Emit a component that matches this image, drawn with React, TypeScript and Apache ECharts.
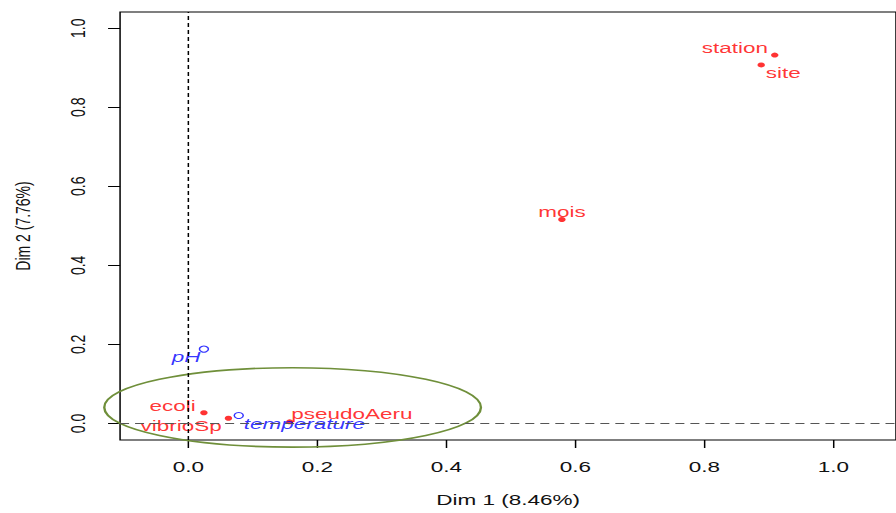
import React, { useEffect, useRef } from "react";
import * as echarts from "echarts";

// ---- data ----
const activeNames = ["station", "site", "mois", "ecoli", "vibrioSp", "pseudoAeru"];
const activeDim1 = [0.909, 0.888, 0.579, 0.024, 0.062, 0.157];
const activeDim2 = [0.932, 0.907, 0.516, 0.027, 0.013, 0.004];

const suppNames = ["pH", "temperature"];
const suppDim1 = [0.024, 0.078];
const suppDim2 = [0.188, 0.02];

const ellipseCenter = [0.1615, 0.0405];
const ellipseRadii = [0.292, 0.1005];

const xTicks = [0, 0.2, 0.4, 0.6, 0.8, 1.0];
const yTicks = [0, 0.2, 0.4, 0.6, 0.8, 1.0];
const xTitle = "Dim 1 (8.46%)";
const yTitle = "Dim 2 (7.76%)";

// ---- layout / style (kept apart from data) ----
const W0 = 597;
const H0 = 513;
const SX = 896 / W0;
const FONT = "'Liberation Sans', Arial, sans-serif";

const labelLayout: Record<string, { align: string; offset: number[] }> = {
  station: { align: "right", offset: [-4.5, -7] },
  site: { align: "left", offset: [3, 8] },
  mois: { align: "center", offset: [0, -8] },
  ecoli: { align: "right", offset: [-5.5, -7] },
  vibrioSp: { align: "right", offset: [-4.5, 8] },
  pseudoAeru: { align: "left", offset: [1, -8] },
  pH: { align: "right", offset: [-2.3, 8] },
  temperature: { align: "left", offset: [3.3, 8] },
};

export default function App() {
  const ref = useRef<HTMLDivElement>(null);

  useEffect(() => {
    if (!ref.current) return;
    const chart = echarts.init(ref.current, undefined, { renderer: "svg" });

    const activeData = activeNames.map((n, i) => ({
      name: n,
      value: [activeDim1[i], activeDim2[i]],
      label: {
        show: true,
        position: "inside",
        formatter: n,
        align: labelLayout[n].align,
        verticalAlign: "middle",
        offset: labelLayout[n].offset,
      },
    }));
    const suppData = suppNames.map((n, i) => ({
      name: n,
      value: [suppDim1[i], suppDim2[i]],
      label: {
        show: true,
        position: "inside",
        formatter: n,
        align: labelLayout[n].align,
        verticalAlign: "middle",
        offset: labelLayout[n].offset,
      },
    }));

    const option: any = {
      animation: false,
      grid: {
        left: 78,
        top: 12,
        right: -2.3,
        bottom: 73,
        show: true,
        borderColor: "#000",
        borderWidth: 1,
        backgroundColor: "transparent",
      },
      xAxis: {
        type: "value",
        min: -0.106,
        max: 1.097,
        name: xTitle,
        nameLocation: "middle",
        nameGap: 52,
        nameTextStyle: { fontFamily: FONT, fontSize: 15, color: "#111" },
        axisLine: { show: false, onZero: false },
        axisTick: {
          show: true,
          inside: false,
          length: 8,
          customValues: xTicks,
          lineStyle: { color: "#000" },
        },
        axisLabel: {
          show: true,
          customValues: xTicks,
          margin: 19,
          fontFamily: FONT,
          fontSize: 15,
          color: "#111",
          formatter: (v: number) => v.toFixed(1),
        },
        splitLine: { show: false },
      },
      yAxis: {
        type: "value",
        min: -0.042,
        max: 1.041,
        name: yTitle,
        nameLocation: "middle",
        nameGap: 58,
        nameRotate: 90,
        nameTextStyle: { fontFamily: FONT, fontSize: 14, color: "#111" },
        axisLine: { show: false, onZero: false },
        axisTick: {
          show: true,
          inside: false,
          length: 8,
          customValues: yTicks,
          lineStyle: { color: "#000" },
        },
        axisLabel: {
          show: true,
          customValues: yTicks,
          rotate: 90,
          margin: 21,
          fontFamily: FONT,
          fontSize: 14,
          color: "#111",
          formatter: (v: number) => v.toFixed(1),
        },
        splitLine: { show: false },
      },
      series: [
        {
          type: "custom",
          name: "ellipse",
          clip: false,
          silent: true,
          data: [[ellipseCenter[0], ellipseCenter[1], ellipseRadii[0], ellipseRadii[1]]],
          renderItem: (params: any, api: any) => {
            const c = api.coord([api.value(0), api.value(1)]);
            const s = api.size([api.value(2), api.value(3)]);
            return {
              type: "ellipse",
              shape: { cx: c[0], cy: c[1], rx: s[0], ry: s[1] },
              style: { fill: "none", stroke: "#6F8F3A", lineWidth: 1.6 },
            };
          },
          z: 1,
        },
        {
          type: "scatter",
          name: "active",
          symbol: "circle",
          symbolSize: 5,
          itemStyle: { color: "#FF0000" },
          label: {
            color: "#FF0000",
            fontFamily: FONT,
            fontSize: 15,
          },
          data: activeData,
          markLine: {
            silent: true,
            symbol: "none",
            label: { show: false },
            data: [
              { xAxis: 0, lineStyle: { color: "#000", type: [4, 3], width: 1 } },
              { yAxis: 0, lineStyle: { color: "#555", type: [6, 4], width: 1.2 } },
            ],
          },
          z: 3,
        },
        {
          type: "scatter",
          name: "supplementary",
          symbol: "circle",
          symbolSize: 6,
          itemStyle: { color: "transparent", borderColor: "#0000FF", borderWidth: 1 },
          label: {
            color: "#0000FF",
            fontFamily: FONT,
            fontSize: 15,
            fontStyle: "italic",
          },
          data: suppData,
          z: 3,
        },
      ],
    };

    chart.setOption(option);
    return () => chart.dispose();
  }, []);

  return (
    <div
      ref={ref}
      style={{
        position: "fixed",
        left: 0,
        top: 0,
        width: W0,
        height: H0,
        transform: `scaleX(${SX})`,
        transformOrigin: "0 0",
        background: "#fff",
      }}
    />
  );
}
